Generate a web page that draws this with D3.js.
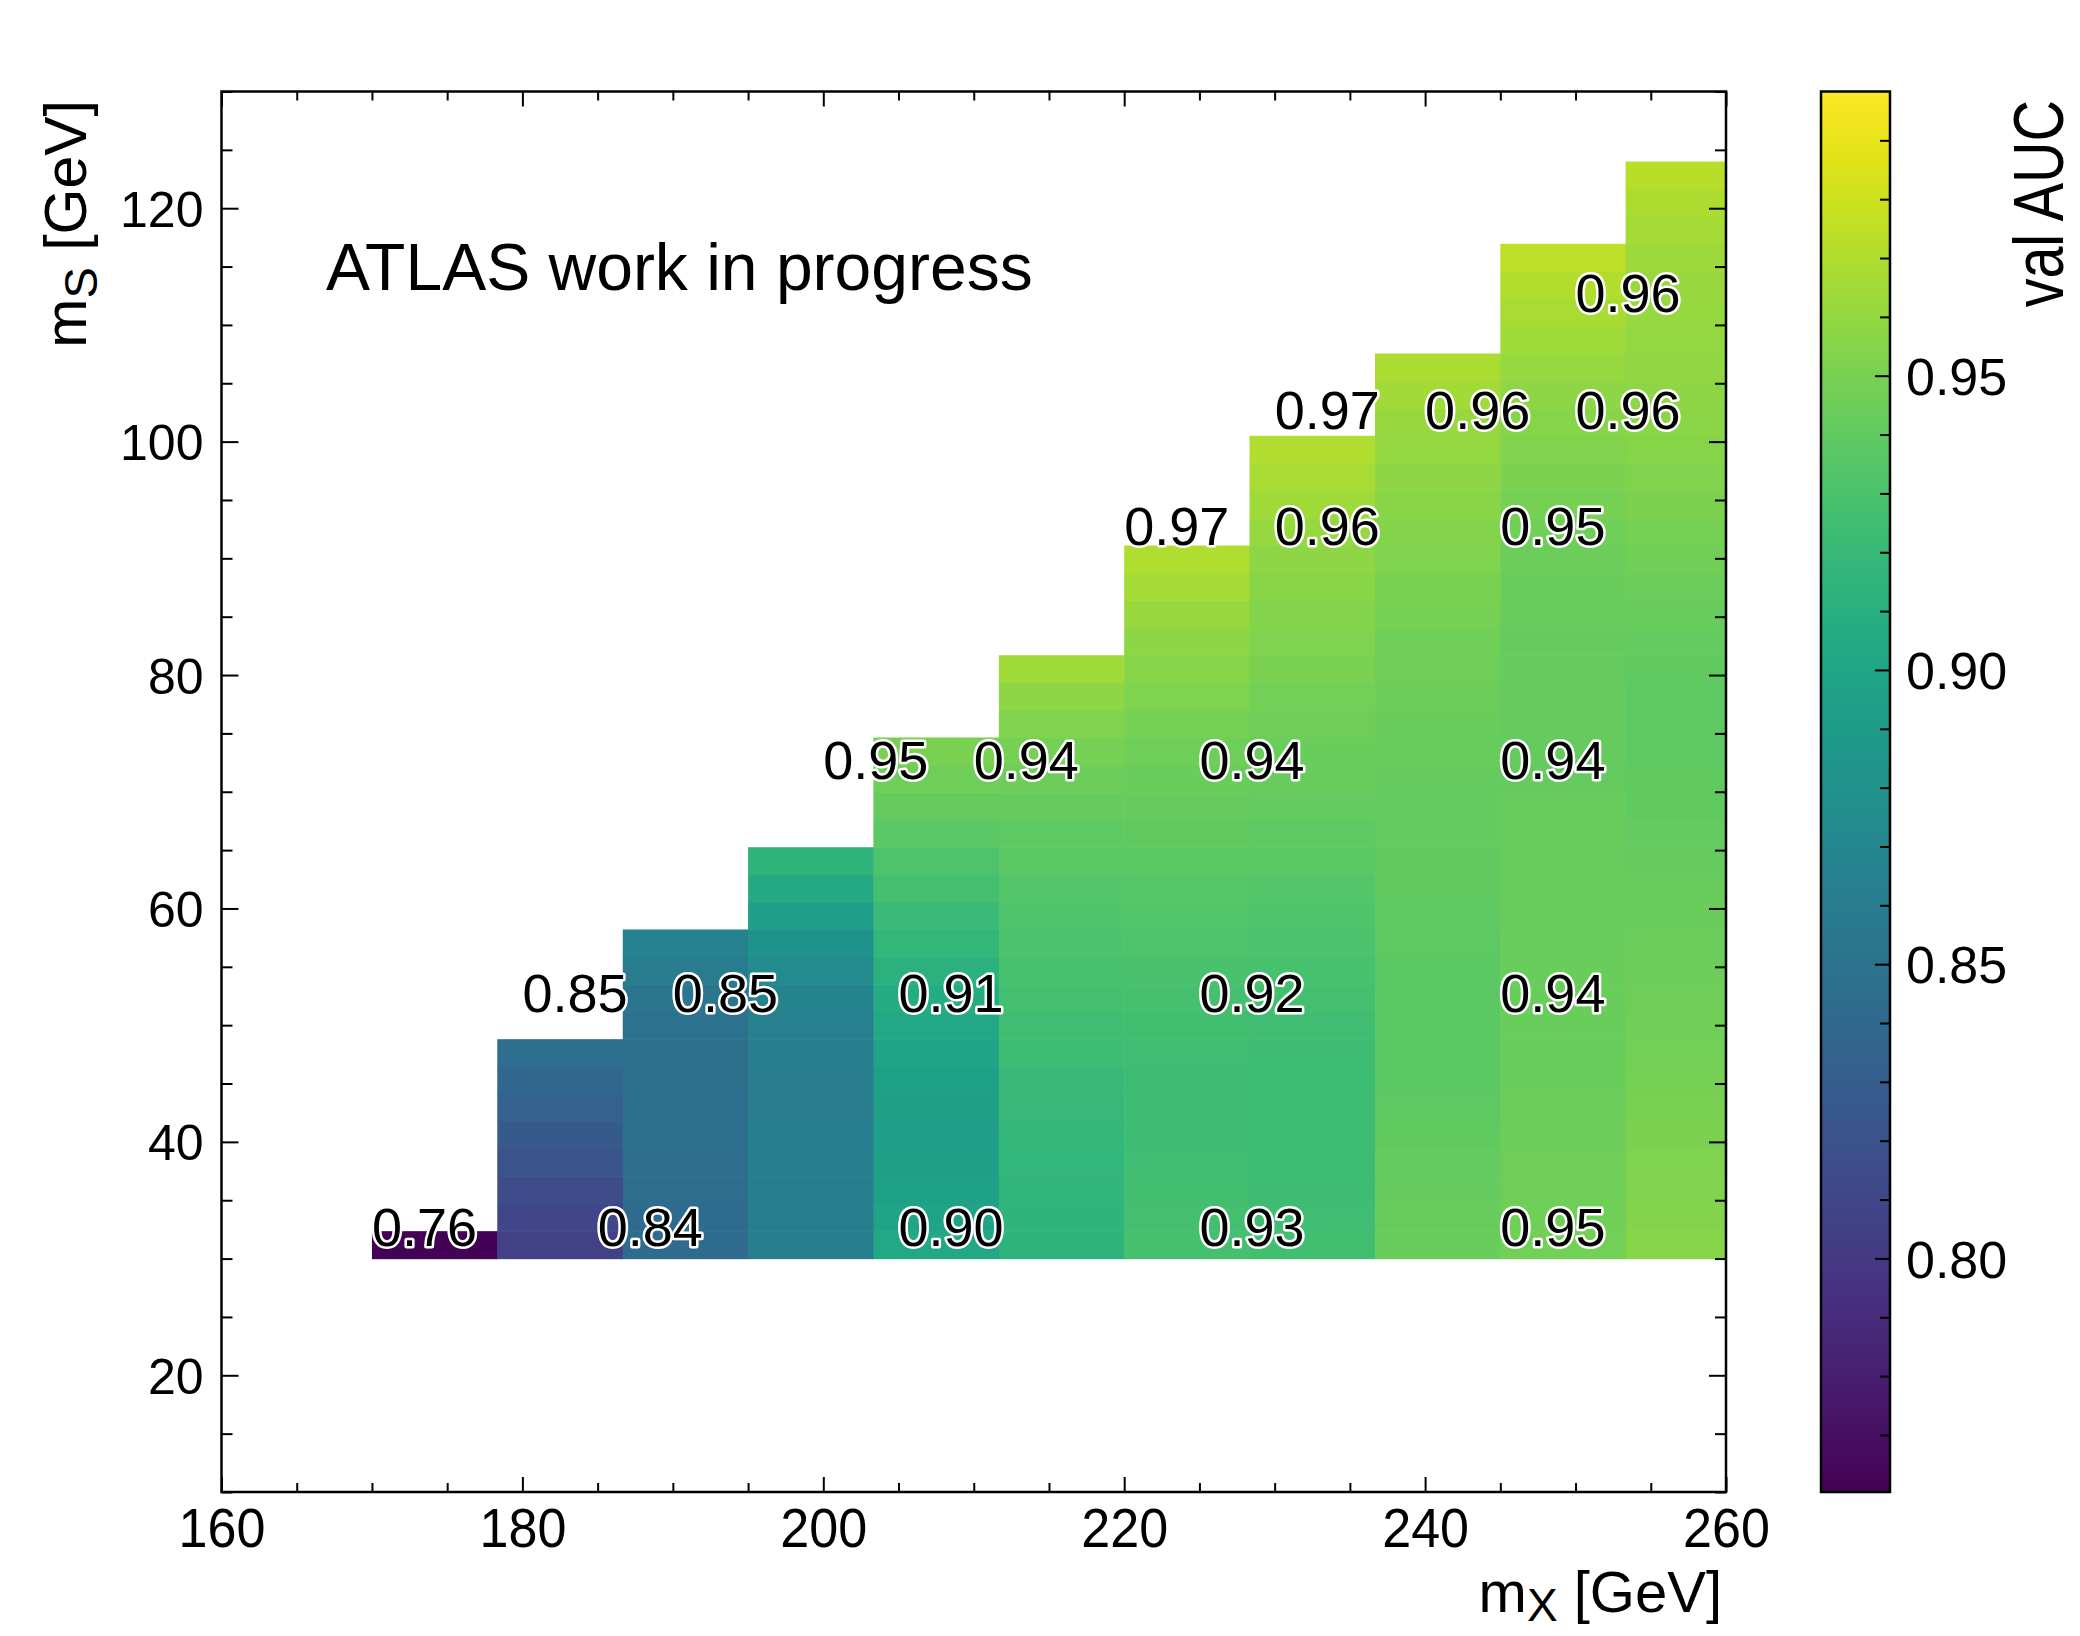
<!DOCTYPE html>
<html><head><meta charset="utf-8">
<script src="https://cdn.jsdelivr.net/npm/d3@7"></script>
<style>
body{margin:0;background:#fff}
svg text{font-family:"Liberation Sans",Arial,Helvetica,sans-serif}
</style>
</head><body>
<svg id="chart" width="2080" height="1636"></svg>
<script>
// ---------------- data ----------------
const mxEdges = [170,178.33,186.67,195,203.33,211.67,220,228.33,236.67,245,253.33,261.67];
const msEdges = [30,32.35,34.7,37.05,39.4,41.75,44.1,46.45,48.8,51.15,53.5,55.85,58.2,60.55,62.9,65.25,67.6,69.95,72.3,74.65,77,79.35,81.7,84.05,86.4,88.75,91.1,93.45,95.8,98.15,100.5,102.85,105.2,107.55,109.9,112.25,114.6,116.95,119.3,121.65,124];
// AUC per mX column, bottom (mS=30) to top, one value per mS bin
const aucCol1  = [0.762];
const aucCol2  = [0.806,0.810,0.815,0.821,0.827,0.833,0.839,0.845];
const aucCol3  = [0.843,0.843,0.844,0.844,0.845,0.845,0.846,0.847,0.850,0.853,0.858,0.865];
const aucCol4  = [0.862,0.862,0.862,0.861,0.861,0.860,0.860,0.861,0.863,0.867,0.873,0.882,0.893,0.905,0.915];
const aucCol5  = [0.903,0.899,0.896,0.894,0.893,0.894,0.896,0.899,0.903,0.907,0.912,0.917,0.922,0.927,0.932,0.937,0.942,0.946,0.950];
const aucCol6  = [0.914,0.915,0.916,0.917,0.918,0.920,0.921,0.923,0.925,0.927,0.929,0.931,0.933,0.935,0.937,0.939,0.942,0.945,0.949,0.953,0.958,0.964];
const aucCol7  = [0.928,0.927,0.926,0.925,0.924,0.924,0.924,0.925,0.926,0.928,0.930,0.932,0.934,0.936,0.938,0.940,0.942,0.944,0.946,0.949,0.952,0.955,0.958,0.962,0.966,0.970];
const aucCol8  = [0.926,0.925,0.924,0.923,0.923,0.923,0.923,0.924,0.925,0.927,0.929,0.931,0.933,0.935,0.937,0.939,0.941,0.943,0.944,0.946,0.948,0.950,0.952,0.954,0.956,0.958,0.961,0.964,0.967,0.970];
const aucCol9  = [0.944,0.943,0.942,0.941,0.940,0.939,0.938,0.938,0.938,0.938,0.938,0.939,0.939,0.940,0.940,0.941,0.941,0.942,0.943,0.944,0.945,0.946,0.947,0.949,0.950,0.952,0.954,0.956,0.958,0.960,0.962,0.965,0.968];
const aucCol10 = [0.948,0.947,0.946,0.946,0.945,0.945,0.944,0.944,0.944,0.944,0.944,0.944,0.943,0.943,0.943,0.943,0.943,0.942,0.942,0.942,0.942,0.942,0.942,0.943,0.944,0.945,0.947,0.949,0.951,0.953,0.955,0.958,0.961,0.964,0.967,0.971,0.975];
const aucCol11 = [0.955,0.954,0.953,0.952,0.951,0.950,0.949,0.948,0.947,0.946,0.945,0.945,0.944,0.943,0.942,0.941,0.940,0.940,0.939,0.939,0.939,0.940,0.941,0.943,0.945,0.947,0.949,0.951,0.953,0.955,0.957,0.958,0.959,0.960,0.961,0.962,0.963,0.966,0.969,0.973];
const aucColumns = [aucCol1,aucCol2,aucCol3,aucCol4,aucCol5,aucCol6,aucCol7,aucCol8,aucCol9,aucCol10,aucCol11];

// labelled signal points
const labelMx  = [170,185,205,225,245, 180,190,205,225,245, 200,210,225,245, 220,230,245, 230,240,250, 250];
const labelMs  = [30,30,30,30,30, 50,50,50,50,50, 70,70,70,70, 90,90,90, 100,100,100, 110];
const labelAuc = ["0.76","0.84","0.90","0.93","0.95", "0.85","0.85","0.91","0.92","0.94", "0.95","0.94","0.94","0.94", "0.97","0.96","0.95", "0.97","0.96","0.96", "0.96"];

const xDomain = [160,260];
const yDomain = [10,130];
const xTicks = [160,180,200,220,240,260];
const yTicks = [20,40,60,80,100,120];
const aucRange = [0.7603,0.9983];
const cbTicks = [0.80,0.85,0.90,0.95];
const cbTickLabels = ["0.80","0.85","0.90","0.95"];

// ---------------- layout ----------------
const P = {l:221.5, r:1726, t:91.5, b:1492};
const CB = {l:1821, r:1890, t:91.5, b:1492};
const svg = d3.select("#chart");
const x = d3.scaleLinear().domain(xDomain).range([P.l,P.r]);
const y = d3.scaleLinear().domain(yDomain).range([P.b,P.t]);
const color = d3.scaleSequential(d3.interpolateViridis).domain(aucRange);

svg.append("defs").append("clipPath").attr("id","plotclip")
  .append("rect").attr("x",P.l).attr("y",P.t).attr("width",P.r-P.l).attr("height",P.b-P.t);

// heatmap cells
const cells = [];
aucColumns.forEach((col,i)=>col.forEach((v,j)=>cells.push({x0:mxEdges[i],x1:mxEdges[i+1],y0:msEdges[j],y1:msEdges[j+1],v})));
svg.append("g").attr("clip-path","url(#plotclip)")
  .selectAll("rect").data(cells).join("rect")
  .attr("x",d=>x(d.x0)).attr("width",d=>x(d.x1)-x(d.x0)+0.6)
  .attr("y",d=>y(d.y1)).attr("height",d=>y(d.y0)-y(d.y1)+0.6)
  .attr("fill",d=>color(d.v));

// axes (ticks inward on all four sides)
const minorX = d3.range(xDomain[0],xDomain[1]+0.1,5).filter(v=>v%20!==0);
const minorY = d3.range(yDomain[0],yDomain[1]+0.1,5).filter(v=>v%20!==0);
function styleAxis(g){g.select(".domain").remove();g.selectAll("line").attr("stroke","#000").attr("stroke-width",2);}
svg.append("g").attr("transform",`translate(0,${P.b})`)
  .call(d3.axisBottom(x).tickValues(minorX).tickSize(-9).tickFormat("")).call(styleAxis);
svg.append("g").attr("transform",`translate(0,${P.t})`)
  .call(d3.axisTop(x).tickValues(minorX).tickSize(-9).tickFormat("")).call(styleAxis);
svg.append("g").attr("transform",`translate(0,${P.t})`)
  .call(d3.axisTop(x).tickValues(xTicks).tickSize(-15).tickFormat("")).call(styleAxis);
const xAx = svg.append("g").attr("transform",`translate(0,${P.b})`)
  .call(d3.axisBottom(x).tickValues(xTicks).tickSize(-15).tickFormat(d3.format("d"))).call(styleAxis);
xAx.selectAll("text").attr("y",55).attr("dy",null).attr("fill","#000")
  .style("font-size","56px").attr("transform","scale(0.93,1)");

svg.append("g").attr("transform",`translate(${P.l},0)`)
  .call(d3.axisLeft(y).tickValues(minorY).tickSize(-11).tickFormat("")).call(styleAxis);
svg.append("g").attr("transform",`translate(${P.r},0)`)
  .call(d3.axisRight(y).tickValues(minorY).tickSize(-11).tickFormat("")).call(styleAxis);
svg.append("g").attr("transform",`translate(${P.r},0)`)
  .call(d3.axisRight(y).tickValues(yTicks).tickSize(-17).tickFormat("")).call(styleAxis);
const yAx = svg.append("g").attr("transform",`translate(${P.l},0)`)
  .call(d3.axisLeft(y).tickValues(yTicks).tickSize(-17).tickFormat(d3.format("d"))).call(styleAxis);
yAx.selectAll("text").attr("x",-18).attr("dy","0.36em").attr("fill","#000").style("font-size","50px");

// frame
svg.append("rect").attr("x",P.l).attr("y",P.t).attr("width",P.r-P.l).attr("height",P.b-P.t)
  .attr("fill","none").attr("stroke","#000").attr("stroke-width",2.5);

// cell value labels (white halo)
const labels = labelMx.map((m,i)=>({mx:m,ms:labelMs[i],t:labelAuc[i]}));
svg.append("g").selectAll("text").data(labels).join("text")
  .attr("x",d=>x(d.mx)).attr("y",d=>y(d.ms)-13)
  .attr("text-anchor","start").style("font-size","54px")
  .attr("fill","#000").attr("stroke","#fff").attr("stroke-width",5)
  .attr("stroke-linejoin","round").style("paint-order","stroke")
  .text(d=>d.t);

// ATLAS label
svg.append("text").attr("x",326).attr("y",290).style("font-size","66px").attr("fill","#000")
  .text("ATLAS work in progress");

// axis titles
const xt = svg.append("text").attr("x",1722).attr("y",1612).attr("text-anchor","end")
  .style("font-size","58px").attr("fill","#000");
xt.append("tspan").text("m");
xt.append("tspan").attr("dy",9).style("font-size","46px").text("X");
xt.append("tspan").attr("dy",-9).text(" [GeV]");

const yt = svg.append("text").attr("transform","translate(86,100) rotate(-90)").attr("text-anchor","end")
  .style("font-size","59px").attr("fill","#000");
yt.append("tspan").text("m");
yt.append("tspan").attr("dy",11).style("font-size","47px").text("S");
yt.append("tspan").attr("dy",-11).text(" [GeV]");

// colorbar
const cy = d3.scaleLinear().domain(aucRange).range([CB.b,CB.t]);
const grad = svg.select("defs").append("linearGradient").attr("id","cbgrad")
  .attr("x1",0).attr("y1",1).attr("x2",0).attr("y2",0);
d3.range(0,1.0001,0.05).forEach(t=>grad.append("stop").attr("offset",t).attr("stop-color",d3.interpolateViridis(t)));
svg.append("rect").attr("x",CB.l).attr("y",CB.t).attr("width",CB.r-CB.l).attr("height",CB.b-CB.t)
  .attr("fill","url(#cbgrad)");
const cbMinor = d3.range(0.77,0.995,0.01).filter(v=>Math.abs(v*20-Math.round(v*20))>1e-6);
svg.append("g").attr("transform",`translate(${CB.r},0)`)
  .call(d3.axisRight(cy).tickValues(cbMinor).tickSize(-10).tickFormat("")).call(styleAxis);
const cbAx = svg.append("g").attr("transform",`translate(${CB.r},0)`)
  .call(d3.axisRight(cy).tickValues(cbTicks).tickSize(-15).tickFormat((d,i)=>cbTickLabels[i])).call(styleAxis);
cbAx.selectAll("text").attr("x",16).attr("dy","0.36em").attr("fill","#000").style("font-size","52px");
svg.append("rect").attr("x",CB.l).attr("y",CB.t).attr("width",CB.r-CB.l).attr("height",CB.b-CB.t)
  .attr("fill","none").attr("stroke","#000").attr("stroke-width",2.5);
svg.append("text").attr("transform","translate(2063,100) rotate(-90) scale(0.82,1)").attr("text-anchor","end")
  .style("font-size","70px").attr("fill","#000").text("val AUC");
</script>
</body></html>
